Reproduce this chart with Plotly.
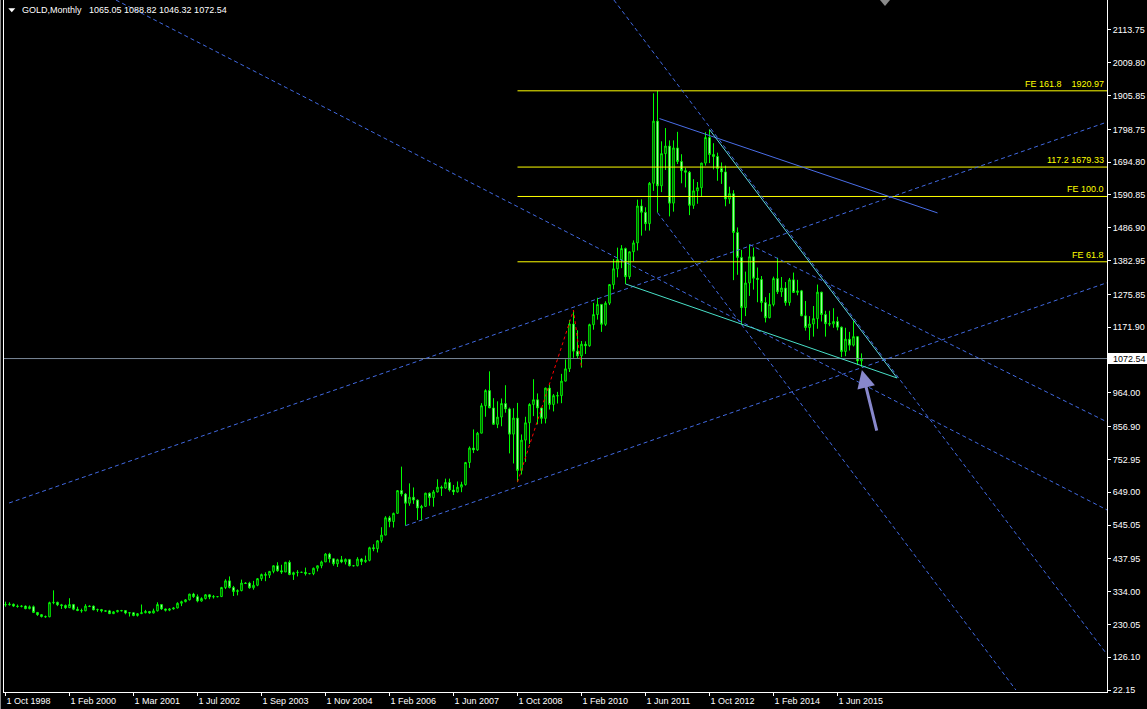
import plotly.graph_objects as go

# ---------------- data (monthly GOLD bars, bar index = position) ----------------
opens = [293, 292, 294, 288, 287, 288, 280, 286, 268, 261, 255, 254, 299, 300, 292, 290, 283, 293, 278, 274,
         273, 288, 288, 276, 277, 273, 273, 264, 270, 274, 274, 266, 267, 258, 264, 267, 271, 266, 273, 293,
         279, 275, 279, 282, 297, 302, 308, 326, 318, 304, 312, 324, 317, 318, 318, 347, 368, 347, 334, 337,
         361, 361, 346, 354, 375, 388, 386, 398, 416, 400, 396, 427, 388, 394, 395, 395, 391, 391, 408, 416,
         428, 453, 438, 422, 435, 428, 436, 416, 416, 437, 429, 433, 473, 470, 495, 513, 568, 556, 582, 654,
         643, 614, 633, 624, 599, 604, 646, 632, 650, 665, 662, 680, 656, 650, 665, 673, 743, 789, 783, 836,
         923, 971, 916, 864, 887, 930, 913, 833, 884, 718, 814, 869, 927, 942, 916, 883, 979, 927, 955, 955,
         1001, 1040, 1182, 1096, 1081, 1118, 1113, 1180, 1212, 1244, 1181, 1248, 1307, 1357, 1386, 1421, 1332, 1411, 1439, 1556,
         1536, 1500, 1628, 1825, 1620, 1722, 1746, 1565, 1740, 1697, 1668, 1663, 1558, 1604, 1614, 1692, 1773, 1719, 1713, 1675,
         1664, 1578, 1595, 1472, 1393, 1234, 1312, 1395, 1327, 1323, 1250, 1202, 1244, 1326, 1284, 1296, 1250, 1322, 1282, 1287,
         1208, 1171, 1182, 1199, 1283, 1212, 1183, 1182, 1190, 1172, 1095, 1134, 1115, 1142, 1065.05]
highs = [302, 300, 296, 293, 291, 290, 290, 290, 269, 263, 258, 302, 338, 302, 295, 293, 313, 295, 286, 280,
         294, 290, 290, 280, 279, 275, 276, 272, 276, 276, 274, 269, 268, 266, 293, 276, 272, 280, 300, 293,
         280, 282, 284, 300, 305, 310, 327, 330, 325, 316, 326, 325, 323, 320, 349, 373, 382, 352, 341, 372,
         364, 365, 368, 377, 391, 395, 399, 417, 427, 419, 428, 433, 397, 402, 397, 410, 393, 410, 416, 432,
         456, 457, 438, 438, 447, 439, 437, 418, 443, 440, 448, 476, 484, 497, 538, 573, 574, 584, 655, 730,
         646, 677, 664, 626, 609, 647, 648, 656, 690, 670, 692, 692, 672, 683, 682, 745, 794, 848, 840, 931,
         975, 1032, 947, 937, 946, 988, 917, 915, 932, 832, 888, 931, 1007, 962, 917, 980, 989, 960, 967, 1024,
         1070, 1195, 1226, 1162, 1128, 1127, 1183, 1249, 1265, 1245, 1254, 1308, 1388, 1424, 1432, 1424, 1411, 1447, 1576, 1577,
         1552, 1632, 1913, 1921, 1761, 1803, 1764, 1764, 1791, 1720, 1677, 1667, 1641, 1632, 1693, 1790, 1798, 1755, 1725, 1694,
         1684, 1617, 1606, 1488, 1417, 1348, 1434, 1424, 1361, 1334, 1267, 1280, 1332, 1392, 1331, 1315, 1328, 1345, 1322, 1290,
         1255, 1207, 1239, 1307, 1284, 1224, 1224, 1232, 1205, 1174, 1170, 1157, 1191, 1143, 1088.82]
lows = [286, 290, 285, 283, 284, 278, 278, 266, 257, 252, 251, 253, 294, 288, 279, 279, 282, 275, 272, 267,
        272, 285, 275, 270, 268, 271, 263, 263, 268, 272, 262, 255, 256, 255, 263, 265, 264, 265, 271, 276,
        271, 272, 277, 281, 288, 300, 306, 314, 300, 302, 309, 310, 312, 316, 317, 342, 344, 320, 322, 335,
        358, 343, 340, 351, 368, 367, 377, 392, 397, 390, 396, 386, 371, 382, 393, 385, 389, 386, 398, 408,
        428, 426, 416, 412, 424, 420, 414, 414, 414, 418, 425, 430, 462, 458, 489, 513, 538, 537, 581, 636,
        543, 606, 612, 561, 560, 603, 606, 603, 648, 637, 660, 651, 640, 648, 649, 670, 726, 773, 780, 836,
        888, 922, 863, 852, 858, 901, 772, 740, 681, 705, 745, 802, 890, 864, 866, 867, 911, 905, 930, 931,
        1000, 1030, 1075, 1072, 1044, 1087, 1110, 1164, 1196, 1157, 1176, 1242, 1292, 1330, 1359, 1309, 1324, 1381, 1415, 1462,
        1478, 1478, 1604, 1535, 1600, 1670, 1523, 1538, 1689, 1628, 1615, 1527, 1547, 1563, 1585, 1684, 1692, 1672, 1636, 1626,
        1555, 1563, 1321, 1338, 1180, 1207, 1271, 1291, 1251, 1221, 1187, 1200, 1238, 1277, 1268, 1240, 1240, 1281, 1273, 1207,
        1161, 1131, 1142, 1167, 1190, 1142, 1175, 1170, 1162, 1077, 1080, 1098, 1111, 1052, 1046.32]
closes = [292, 294, 288, 287, 288, 280, 286, 268, 261, 255, 254, 299, 300, 292, 290, 283, 293, 278, 274, 273,
          288, 287, 276, 277, 273, 272, 264, 270, 274, 273, 266, 267, 258, 264, 267, 271, 266, 273, 293, 279,
          275, 279, 282, 297, 302, 308, 326, 318, 304, 312, 324, 317, 318, 318, 347, 368, 347, 334, 337, 361,
          360, 346, 354, 375, 388, 386, 398, 416, 400, 396, 427, 388, 394, 395, 395, 391, 391, 408, 416, 428,
          453, 438, 422, 435, 428, 436, 416, 416, 437, 429, 433, 473, 470, 495, 513, 568, 556, 582, 654, 643,
          614, 633, 624, 599, 604, 646, 632, 650, 665, 662, 680, 656, 650, 665, 673, 743, 789, 783, 836, 923,
          971, 916, 864, 887, 930, 913, 833, 884, 718, 814, 869, 927, 942, 916, 883, 979, 927, 955, 954, 1001,
          1040, 1182, 1096, 1081, 1118, 1113, 1180, 1212, 1244, 1181, 1248, 1307, 1357, 1386, 1421, 1332, 1411, 1439, 1556, 1536,
          1500, 1628, 1825, 1620, 1722, 1746, 1565, 1740, 1697, 1668, 1663, 1558, 1604, 1614, 1692, 1773, 1719, 1713, 1675, 1664,
          1578, 1595, 1472, 1393, 1234, 1312, 1395, 1327, 1323, 1250, 1202, 1244, 1326, 1284, 1296, 1250, 1322, 1282, 1287, 1208,
          1171, 1182, 1199, 1283, 1212, 1183, 1182, 1190, 1172, 1095, 1134, 1115, 1142, 1065, 1072.54]

xtick_bars = [0, 16, 32, 48, 64, 80, 96, 112, 128, 144, 160, 176, 192, 208]
xtick_text = ["1 Oct 1998", "1 Feb 2000", "1 Mar 2001", "1 Jul 2002", "1 Sep 2003", "1 Nov 2004",
              "1 Feb 2006", "1 Jun 2007", "1 Oct 2008", "1 Feb 2010", "1 Jun 2011", "1 Oct 2012",
              "1 Feb 2014", "1 Jun 2015"]
ytick_vals = [22.15, 126.10, 230.05, 334.00, 437.95, 545.05, 649.00, 752.95, 856.90, 964.00,
              1171.90, 1275.85, 1382.95, 1486.90, 1590.85, 1694.80, 1798.75, 1905.85, 2009.80, 2113.75]

header_text = "GOLD,Monthly\u00a0\u00a0 1065.05 1088.82 1046.32 1072.54"

# Fibonacci expansion objects
fe_prices = [1920.97, 1679.33, 1586.14, 1379.18]
fe_labels = ["FE 161.8\u00a0\u00a0\u00a0 1920.97", "117.2 1679.33", "FE 100.0", "FE 61.8"]
fe_start_bar = 128
fe_base_bars = [128, 142, 144]
fe_base_prices = [681, 1226, 1044]

# trend lines: (bar, price) -> (bar, price)
dashed_lines = [
    ((27.6, 2208.8), (275.4, 592.6)),
    ((0.9, 614.8), (275.4, 1822.0)),
    ((100.0, 543.0), (275.4, 1313.0)),
    ((186.0, 1434.0), (275.4, 871.5)),
    ((152.1, 2208.8), (274.9, 142.6)),
    ((163.0, 1535.0), (252.6, 22.1)),
]
solid_lines = [
    ((163.5, 1833.0), (233.0, 1534.0), "#4a6ee8"),
    ((176.0, 1798.0), (222.9, 1010.9), "#5ed8e0"),
    ((155.0, 1309.0), (222.9, 1010.9), "#48e0c8"),
]
arrow_head = (214.1, 1036.3)
arrow_tail = (217.9, 839.7)

# ---------------- geometry ----------------
W, H = 1147, 709
ML, MR, MT, MB = 3, 40, 0, 17
PW, PH = W - ML - MR, H - MT - MB
X_RANGE = [-0.625, 275.375]
Y_RANGE = [15.8, 2208.8]
units_per_px = (Y_RANGE[1] - Y_RANGE[0]) / PH


def px(x):
    return (x - ML) / PW


def py(y):
    return 1 - (y - MT) / PH


FONT = "Liberation Sans, Arial, sans-serif"
n = len(closes)
bars = list(range(n))

fig = go.Figure()
fig.add_trace(go.Candlestick(
    x=bars, open=opens, high=highs, low=lows, close=closes,
    increasing=dict(line=dict(color="#00ff00", width=1), fillcolor="#000000"),
    decreasing=dict(line=dict(color="#00ff00", width=1), fillcolor="#ffffff"),
    whiskerwidth=0, hoverinfo="skip", showlegend=False,
))

# current price line
fig.add_trace(go.Scatter(x=[X_RANGE[0] - 5, X_RANGE[1] + 5], y=[closes[-1], closes[-1]], mode="lines",
                         line=dict(color="#7a8899", width=1), hoverinfo="skip", showlegend=False))

# Fibonacci expansion levels
for p in fe_prices:
    fig.add_trace(go.Scatter(x=[fe_start_bar, X_RANGE[1] + 5], y=[p, p], mode="lines",
                             line=dict(color="#ffff00", width=1), hoverinfo="skip", showlegend=False))
fig.add_trace(go.Scatter(x=fe_base_bars, y=fe_base_prices, mode="lines",
                         line=dict(color="#ff0000", width=1, dash="3px,3px"), hoverinfo="skip", showlegend=False))

for (a, b) in dashed_lines:
    fig.add_trace(go.Scatter(x=[a[0], b[0]], y=[a[1], b[1]], mode="lines",
                             line=dict(color="#4169e1", width=1, dash="4px,3px"), hoverinfo="skip", showlegend=False))
for (a, b, c) in solid_lines:
    fig.add_trace(go.Scatter(x=[a[0], b[0]], y=[a[1], b[1]], mode="lines",
                             line=dict(color=c, width=1), hoverinfo="skip", showlegend=False))

annotations = []
for p, t in zip(fe_prices, fe_labels):
    annotations.append(dict(x=1, xref="paper", y=p, yref="y", xanchor="right", yanchor="bottom",
                            xshift=-1, text=t, showarrow=False,
                            font=dict(family=FONT, size=9, color="#ffff00")))
# arrow
annotations.append(dict(x=arrow_head[0], y=arrow_head[1], xref="x", yref="y",
                        ax=arrow_tail[0], ay=arrow_tail[1], axref="x", ayref="y",
                        showarrow=True, arrowhead=2, arrowsize=1.2, arrowwidth=3,
                        arrowcolor="#8888cc", text=""))
# header
annotations.append(dict(x=px(20), y=py(3), xref="paper", yref="paper", xanchor="left", yanchor="top",
                        text=header_text, showarrow=False,
                        font=dict(family=FONT, size=9, color="#ffffff")))
# current price label
annotations.append(dict(x=1, xref="paper", y=closes[-1], yref="y", xanchor="left", yanchor="middle",
                        xshift=4, text=f"{closes[-1]:.2f}", showarrow=False,
                        font=dict(family=FONT, size=9, color="#000000")))

shapes = [
    # price label box
    dict(type="rect", xref="paper", yref="y", x0=px(1108), x1=px(1147),
         y0=closes[-1] - 5.5 * units_per_px, y1=closes[-1] + 5.5 * units_per_px,
         fillcolor="#ffffff", line=dict(width=0), layer="below"),
    # header triangle
    dict(type="path", xref="paper", yref="paper",
         path=f"M {px(8.3)} {py(8.3)} L {px(15.3)} {py(8.3)} L {px(11.8)} {py(12.3)} Z",
         fillcolor="#ffffff", line=dict(width=0)),
    # shift marker at top
    dict(type="path", xref="paper", yref="paper",
         path=f"M {px(880)} {py(0)} L {px(890)} {py(0)} L {px(885)} {py(6)} Z",
         fillcolor="#8a8a8a", line=dict(width=0)),
    # left frame lines
    dict(type="line", xref="paper", yref="paper", x0=px(3.5), x1=px(3.5), y0=0, y1=1,
         line=dict(color="#ffffff", width=1)),
    dict(type="line", xref="paper", yref="paper", x0=px(0.5), x1=px(0.5), y0=py(709), y1=1,
         line=dict(color="#8a8a8a", width=1)),
]

fig.update_layout(
    width=W, height=H,
    margin=dict(l=ML, r=MR, t=MT, b=MB, pad=0),
    paper_bgcolor="#000000", plot_bgcolor="#000000",
    showlegend=False,
    boxgap=0.45,
    font=dict(family=FONT, size=9, color="#ffffff"),
    xaxis=dict(range=X_RANGE, rangeslider=dict(visible=False), showgrid=False, zeroline=False,
               showline=True, linecolor="#ffffff", linewidth=1,
               ticks="outside", ticklen=3, tickcolor="#ffffff", tickwidth=1,
               tickmode="array", tickvals=xtick_bars, ticktext=xtick_text,
               ticklabelposition="outside right",
               tickfont=dict(family=FONT, size=9, color="#ffffff")),
    yaxis=dict(range=Y_RANGE, side="right", showgrid=False, zeroline=False,
               showline=True, linecolor="#ffffff", linewidth=1,
               ticks="outside", ticklen=3, tickcolor="#ffffff", tickwidth=1,
               tickmode="array", tickvals=ytick_vals, ticktext=[f"{v:.2f}" for v in ytick_vals],
               tickfont=dict(family=FONT, size=9, color="#ffffff")),
    annotations=annotations,
    shapes=shapes,
)

fig.write_html("out.html", config={"displayModeBar": False})
with open("out.html", "r", encoding="utf-8") as f:
    html = f.read()
html = html.replace("<head>", "<head><style>html,body{margin:0;padding:0;overflow:hidden;background:#000}</style>", 1)
with open("out.html", "w", encoding="utf-8") as f:
    f.write(html)
